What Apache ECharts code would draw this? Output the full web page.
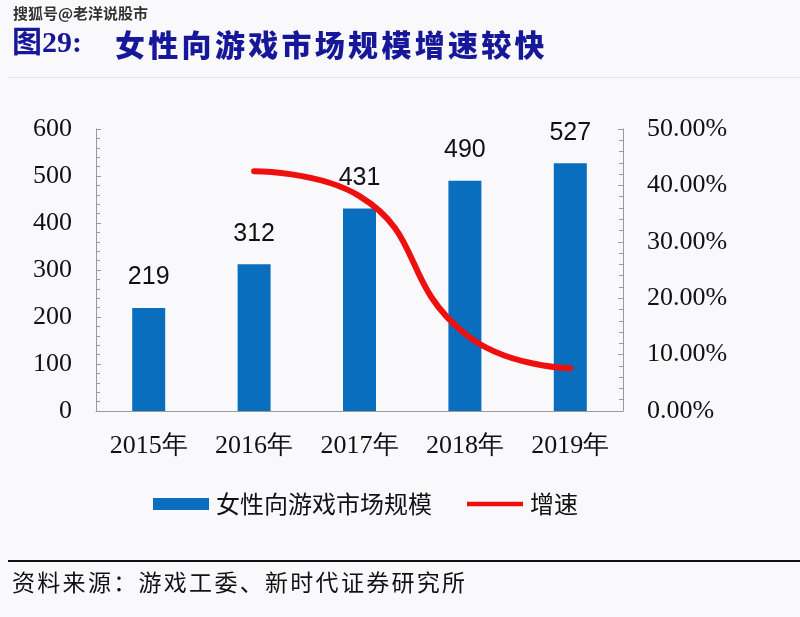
<!DOCTYPE html>
<html>
<head>
<meta charset="utf-8">
<script src="https://cdn.jsdelivr.net/npm/echarts@6/dist/echarts.min.js"></script>
<style>
html,body{margin:0;padding:0;background:#f9f9fb;}
#c{width:800px;height:617px;}
</style>
</head>
<body>
<div id="c"></div>
<script>
const categories = ['2015年', '2016年', '2017年', '2018年', '2019年'];
const marketSize = [219, 312, 431, 490, 527];
const growth = [null, 0.425, 0.381, 0.137, 0.076];
const leftTicks = [0, 100, 200, 300, 400, 500, 600];
const rightTicks = [0, 0.1, 0.2, 0.3, 0.4, 0.5];
const barName = '女性向游戏市场规模';
const lineName = '增速';
const titleText = '女性向游戏市场规模增速较快';
const figNo = '图29:';
const sourceText = '资料来源：游戏工委、新时代证券研究所';
const watermark = '搜狐号@老洋说股市';

const chart = echarts.init(document.getElementById('c'), null, {renderer: 'canvas'});
const serif = '"Liberation Serif","Times New Roman",serif';
const cjk = '"Noto Sans CJK SC","Noto Sans",sans-serif';

function spacedText(str, x0, y0, step, style) {
  return Array.from(str).map((ch, i) => ({
    type: 'text', x: x0 + i * step, y: y0,
    style: Object.assign({text: ch}, style)
  }));
}

chart.setOption({
  backgroundColor: '#f9f9fb',
  animation: false,
  grid: {left: 96, right: 177, top: 129, bottom: 206, containLabel: false},
  legend: {
    bottom: 96,
    left: 148,
    itemGap: 35,
    itemWidth: 56,
    itemHeight: 12,
    textStyle: {fontFamily: cjk, fontSize: 24, color: '#111', padding: [0, 0, 0, 2]},
    data: [
      {name: barName, icon: 'rect'},
      {name: lineName, icon: 'path://M0,0 L60,0 L60,5 L0,5 Z'}
    ]
  },
  xAxis: {
    type: 'category',
    data: categories,
    axisLine: {lineStyle: {color: '#9a9a9a', width: 1}},
    axisTick: {show: false},
    axisLabel: {fontFamily: serif, fontSize: 26, color: '#111', margin: 22}
  },
  yAxis: [
    {
      type: 'value', min: 0, max: 600, interval: 100,
      axisLine: {show: true, lineStyle: {color: '#9a9a9a'}},
      axisTick: {show: true, inside: true, length: 5, lineStyle: {color: '#9a9a9a'}},
      minorTick: {show: true, splitNumber: 5, length: 4, lineStyle: {color: '#9a9a9a'}},
      splitLine: {show: false},
      axisLabel: {fontFamily: serif, fontSize: 26, color: '#111', margin: 24,
        formatter: v => leftTicks.includes(v) ? String(v) : ''}
    },
    {
      type: 'value', min: 0, max: 0.5, interval: 0.1,
      axisLine: {show: true, lineStyle: {color: '#9a9a9a'}},
      axisTick: {show: true, inside: true, length: 5, lineStyle: {color: '#9a9a9a'}},
      minorTick: {show: true, splitNumber: 5, length: 4, lineStyle: {color: '#9a9a9a'}},
      splitLine: {show: false},
      axisLabel: {fontFamily: serif, fontSize: 26, color: '#111', margin: 24,
        formatter: v => {
          const r = rightTicks.find(t => Math.abs(t - v) < 1e-9);
          return r === undefined ? '' : (r * 100).toFixed(2) + '%';
        }}
    }
  ],
  series: [
    {
      name: barName, type: 'bar', data: marketSize, barWidth: 33,
      itemStyle: {color: '#0a6ebf'},
      label: {show: true, position: 'top', distance: 18, fontFamily: '"Liberation Sans","Open Sans",sans-serif',
        fontSize: 25, color: '#111'}
    },
    {
      name: lineName, type: 'line', yAxisIndex: 1, data: growth, smooth: 0.5,
      showSymbol: false, connectNulls: false,
      lineStyle: {color: '#ee0f0f', width: 6, cap: 'round'},
      itemStyle: {color: '#ee0f0f'}
    }
  ],
  graphic: [
    {type: 'text', left: 12, top: 5, style: {text: watermark, fontFamily: cjk, fontSize: 15, fontWeight: 'bold',
      fill: '#333', stroke: '#fff', lineWidth: 2}},
    {type: 'text', left: 12, top: 29, style: {text: figNo, fontFamily: '"Liberation Serif","Noto Sans CJK SC",serif', fontSize: 30, fontWeight: 'bold', fill: '#17179a'}},
    ...spacedText(titleText, 115, 30, 33.3, {fontFamily: cjk, fontSize: 30, fontWeight: 900, fill: '#17179a'}),
    {type: 'rect', shape: {x: 8, y: 77, width: 792, height: 1}, style: {fill: '#e3e3e8'}},
    {type: 'rect', shape: {x: 8, y: 560, width: 792, height: 2}, style: {fill: '#111'}},
    ...spacedText(sourceText, 12, 571, 25.3, {fontFamily: cjk, fontSize: 23, fill: '#111'})
  ]
});
</script>
</body>
</html>
